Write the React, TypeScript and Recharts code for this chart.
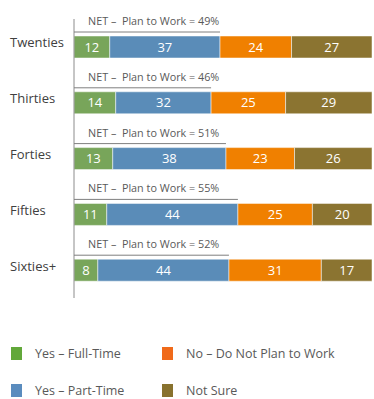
import { BarChart, Bar, XAxis, YAxis, LabelList } from "recharts";

const ageGroups = ["Twenties", "Thirties", "Forties", "Fifties", "Sixties+"];
const fullTime = [12, 14, 13, 11, 8];
const partTime = [37, 32, 38, 44, 44];
const noPlan = [24, 25, 23, 25, 31];
const notSure = [27, 29, 26, 20, 17];
const netPlan = [49, 46, 51, 55, 52];

const data = ageGroups.map((group, i) => ({
  group,
  fullTime: fullTime[i],
  partTime: partTime[i],
  noPlan: noPlan[i],
  notSure: notSure[i],
  net: netPlan[i],
}));

const FONT = "'Open Sans', 'Noto Sans', sans-serif";
const PLOT_LEFT = 74;

const legendItems = [
  { label: "Yes – Full-Time", color: "#62A83A", left: 11, top: 347 },
  { label: "No – Do Not Plan to Work", color: "#F06A1A", left: 162, top: 347 },
  { label: "Yes – Part-Time", color: "#5A8CBE", left: 11, top: 384 },
  { label: "Not Sure", color: "#88722E", left: 162, top: 384 },
];

const CategoryTick = (props: any) => {
  const { y, payload } = props;
  return (
    <text x={10} y={y - 4} dy="0.35em" fontSize={13} fill="#404040" fontFamily={FONT}>
      {payload.value}
    </text>
  );
};

const NetLabel = (props: any) => {
  const { x, y, width, index } = props;
  const end = x + width;
  return (
    <g>
      <line x1={PLOT_LEFT} x2={end} y1={y - 4} y2={y - 4} stroke="#7f7f7f" strokeWidth={1} />
      <text
        x={PLOT_LEFT + 14}
        y={y - 11}
        fontSize={10.8}
        fill="#595959"
        fontFamily={FONT}
        style={{ whiteSpace: "pre" }}
      >
        {`NET –  Plan to Work = ${data[index].net}%`}
      </text>
    </g>
  );
};

const valueLabel = { fill: "#ffffff", fontSize: 13, fontFamily: FONT };

export default function App() {
  return (
    <div style={{ position: "absolute", left: 0, top: 0, width: 374, height: 399, background: "#fff", overflow: "hidden" }}>
      <BarChart
        width={374}
        height={300}
        data={data}
        layout="vertical"
        barSize={22}
        margin={{ top: 19, right: 2, bottom: 2, left: 0 }}
      >
        <XAxis type="number" domain={[0, 100]} hide />
        <YAxis
          type="category"
          dataKey="group"
          width={PLOT_LEFT}
          tickLine={false}
          axisLine={{ stroke: "#8c8c8c" }}
          tick={<CategoryTick />}
        />
        <Bar dataKey="fullTime" stackId="a" fill="#78A55A" stroke="#ffffff" strokeWidth={0.5} isAnimationActive={false}>
          <LabelList dataKey="fullTime" position="center" style={valueLabel} />
        </Bar>
        <Bar dataKey="partTime" stackId="a" fill="#5A8CB8" stroke="#ffffff" strokeWidth={0.5} isAnimationActive={false}>
          <LabelList dataKey="partTime" position="center" style={valueLabel} />
          <LabelList dataKey="net" content={<NetLabel />} />
        </Bar>
        <Bar dataKey="noPlan" stackId="a" fill="#F08000" stroke="#ffffff" strokeWidth={0.5} isAnimationActive={false}>
          <LabelList dataKey="noPlan" position="center" style={valueLabel} />
        </Bar>
        <Bar dataKey="notSure" stackId="a" fill="#8B7431" stroke="#ffffff" strokeWidth={0.5} isAnimationActive={false}>
          <LabelList dataKey="notSure" position="center" style={valueLabel} />
        </Bar>
      </BarChart>
      {legendItems.map((item) => (
        <div key={item.label} style={{ position: "absolute", left: item.left, top: item.top, display: "flex", alignItems: "center" }}>
          <div style={{ width: 11, height: 13, background: item.color }} />
          <span style={{ marginLeft: 13, fontSize: 12.5, color: "#595959", fontFamily: FONT, lineHeight: "13px" }}>
            {item.label}
          </span>
        </div>
      ))}
    </div>
  );
}
